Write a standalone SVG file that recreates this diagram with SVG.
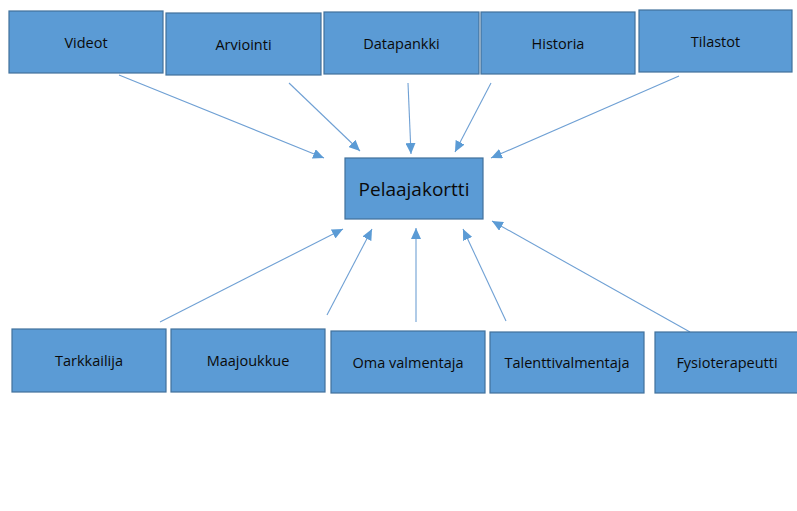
<svg xmlns="http://www.w3.org/2000/svg" width="797" height="511" viewBox="0 0 797 511">
<style>
.box{fill:#5b9bd5;stroke:#41719c;stroke-width:1.2}
.t{font-family:"Open Sans","Liberation Sans",sans-serif;font-size:14.5px;fill:#0a0a0a;text-anchor:middle;dominant-baseline:central}
.big{font-size:19px}
.c{stroke:#6fa0d4;stroke-width:1.1;fill:none;marker-end:url(#ah)}
</style>
<defs>
<marker id="ah" markerUnits="userSpaceOnUse" markerWidth="12" markerHeight="10" viewBox="0 0 12 10" refX="11" refY="5" orient="auto">
<path d="M0,0 L11,5 L0,10 z" fill="#5b9bd5"/>
</marker>
</defs>
<rect width="797" height="511" fill="#fff"/>
<g id="connectors">
<line class="c" x1="119" y1="75" x2="324" y2="158"/>
<line class="c" x1="289" y1="83" x2="360" y2="151"/>
<line class="c" x1="408" y1="83" x2="411" y2="154"/>
<line class="c" x1="491" y1="83" x2="455" y2="152"/>
<line class="c" x1="679" y1="76" x2="491" y2="158"/>
<line class="c" x1="160" y1="322" x2="343" y2="229"/>
<line class="c" x1="327" y1="315" x2="372" y2="229"/>
<line class="c" x1="416" y1="322" x2="416" y2="228"/>
<line class="c" x1="506" y1="321" x2="463" y2="229"/>
<line class="c" x1="690" y1="332" x2="492" y2="221"/>
</g>
<g id="videot"><rect class="box" x="9" y="11" width="154" height="62"/><text class="t" x="86" y="42">Videot</text></g>
<g id="arviointi"><rect class="box" x="166" y="13" width="155" height="62"/><text class="t" x="243.5" y="44">Arviointi</text></g>
<g id="datapankki"><rect class="box" x="324" y="12" width="155" height="62"/><text class="t" x="401.5" y="43">Datapankki</text></g>
<g id="historia"><rect class="box" x="481" y="12" width="154" height="62"/><text class="t" x="558" y="43">Historia</text></g>
<g id="tilastot"><rect class="box" x="639" y="10" width="153" height="62"/><text class="t" x="715.5" y="41">Tilastot</text></g>
<g id="pelaajakortti"><rect class="box" x="345" y="158" width="138" height="61"/><text class="t big" x="414" y="189">Pelaajakortti</text></g>
<g id="tarkkailija"><rect class="box" x="12" y="329" width="154" height="63"/><text class="t" x="89" y="360">Tarkkailija</text></g>
<g id="maajoukkue"><rect class="box" x="171" y="329" width="154" height="63"/><text class="t" x="248" y="360">Maajoukkue</text></g>
<g id="oma-valmentaja"><rect class="box" x="331" y="331" width="154" height="62"/><text class="t" x="408" y="362">Oma valmentaja</text></g>
<g id="talenttivalmentaja"><rect class="box" x="490" y="332" width="154" height="61"/><text class="t" x="567" y="362">Talenttivalmentaja</text></g>
<g id="fysioterapeutti"><rect class="box" x="655" y="332" width="145" height="61"/><text class="t" x="727" y="362">Fysioterapeutti</text></g>
</svg>
